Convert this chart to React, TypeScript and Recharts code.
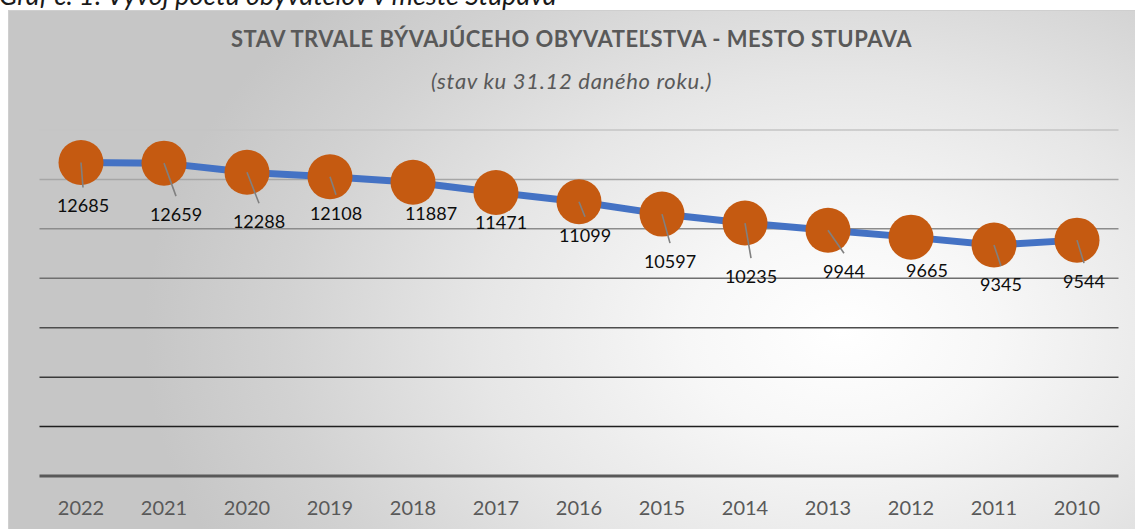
import React from 'react';
import {
  LineChart,
  Line,
  XAxis,
  YAxis,
  CartesianGrid,
  LabelList
} from 'recharts';

// Population at 31.12 of each year, newest first (as in the source chart)
const YEARS = ['2022', '2021', '2020', '2019', '2018', '2017', '2016', '2015', '2014', '2013', '2012', '2011', '2010'];
const RESIDENTS = [12685, 12659, 12288, 12108, 11887, 11471, 11099, 10597, 10235, 9944, 9665, 9345, 9544];
const Y_TICKS = [0, 2000, 4000, 6000, 8000, 10000, 12000, 14000];

// Gridline colours, bottom (0) to top (14000)
const GRID_COLORS = ['#595959', '#1f1f1f', '#3a3a3a', '#4d4d4d', '#6f6f6f', '#8c8c8c', '#a6a6a6', '#c4c4c4'];

// Hand-moved data labels: [dx, dy, show leader line]
const LABEL_NUDGES: [number, number, boolean][] = [
  [2, 43, true], [12, 51, true], [12, 49, true], [6, 36, true], [18, 31, false],
  [5, 29, false], [6, 33, true], [8, 47, true], [6, 53, true], [16, 41, true],
  [16, 33, false], [7, 39, true], [7, 41, true]
];

const FONT = 'Lato, "Open Sans", sans-serif';

const data = YEARS.map((year, i) => ({ year, residents: RESIDENTS[i] }));

const GridLine = (props: any) => {
  const { x1, y1, x2, y2, index } = props;
  const isAxis = index === 0;
  return (
    <line
      key={`g-${index}`}
      x1={x1}
      y1={y1}
      x2={x2}
      y2={y2}
      stroke={GRID_COLORS[index] ?? '#999'}
      strokeWidth={isAxis ? 3 : 1.5}
    />
  );
};

const YearTick = (props: any) => {
  const { x, y, payload } = props;
  return (
    <text x={x} y={y + 39} textAnchor="middle" fill="#595959" fontSize={20} fontFamily={FONT}>
      {payload.value}
    </text>
  );
};

const PointLabel = (props: any) => {
  const { x, y, value } = props;
  const idx = props.index ?? RESIDENTS.indexOf(Number(value));
  const [dx, dy, leader] = LABEL_NUDGES[idx] ?? [0, 40, false];
  const lx = x + dx;
  const ly = y + dy;
  return (
    <g>
      {leader && (
        <line x1={x} y1={y} x2={lx} y2={ly - 18} stroke="#808080" strokeWidth={1.6} />
      )}
      <text
        x={lx}
        y={ly + 7}
        textAnchor="middle"
        fill="#0d0d0d"
        fontSize={18}
        fontFamily={FONT}
      >
        {value}
      </text>
    </g>
  );
};

export default function App() {
  return (
    <div style={{ position: 'relative', width: 1135, height: 529, overflow: 'hidden' }}>
      <style>{'body{margin:0;overflow:hidden}'}</style>
      {/* chart frame with Excel-like radial fill */}
      <div
        style={{
          position: 'absolute',
          left: 8,
          top: 10,
          width: 1127,
          height: 519,
          boxSizing: 'border-box',
          borderTop: '1px solid #cfcfcf',
          borderLeft: '1px solid #cfcfcf',
          background:
            'radial-gradient(ellipse 62% 95% at 74% 62%, #ffffff 0%, #f7f7f7 22%, #e6e6e6 52%, #d2d2d2 80%, #c6c6c6 100%)'
        }}
      >
        <LineChart
          width={1127}
          height={519}
          data={data}
          margin={{ top: 119, right: 17.5, left: 30.5, bottom: 0 }}
        >
          <CartesianGrid vertical={false} horizontal={GridLine} />
          <XAxis
            dataKey="year"
            height={54}
            axisLine={false}
            tickLine={false}
            tickSize={0}
            tickMargin={0}
            interval={0}
            padding={{ left: 41.5, right: 41.5 }}
            tick={YearTick}
          />
          <YAxis hide width={0} domain={[0, 14000]} ticks={Y_TICKS} />
          <Line
            type="linear"
            dataKey="residents"
            stroke="#4472c4"
            strokeWidth={7}
            dot={{ r: 22.5, fill: '#c55a11', stroke: 'none', fillOpacity: 1 }}
            activeDot={false}
            isAnimationActive={false}
          >
            <LabelList dataKey="residents" content={PointLabel} />
          </Line>
        </LineChart>
      </div>
      {/* caption and titles */}
      <svg
        width={1135}
        height={529}
        style={{ position: 'absolute', left: 0, top: 0, pointerEvents: 'none' }}
      >
        <text x={-1} y={5} fontSize={27} fontStyle="italic" fill="#1a1a1a" fontFamily={FONT}>
          Graf č. 1: Vývoj počtu obyvateľov v meste Stupava
        </text>
        <text
          x={571.5}
          y={47}
          textAnchor="middle"
          fontSize={22}
          letterSpacing={0.5}
          fontWeight="bold"
          fill="#595959"
          fontFamily={FONT}
        >
          STAV TRVALE BÝVAJÚCEHO OBYVATEĽSTVA - MESTO STUPAVA
        </text>
        <text
          x={571.5}
          y={89}
          textAnchor="middle"
          fontSize={22}
          letterSpacing={0.7}
          fontStyle="italic"
          fill="#595959"
          fontFamily={FONT}
        >
          (stav ku 31.12 daného roku.)
        </text>
      </svg>
    </div>
  );
}
